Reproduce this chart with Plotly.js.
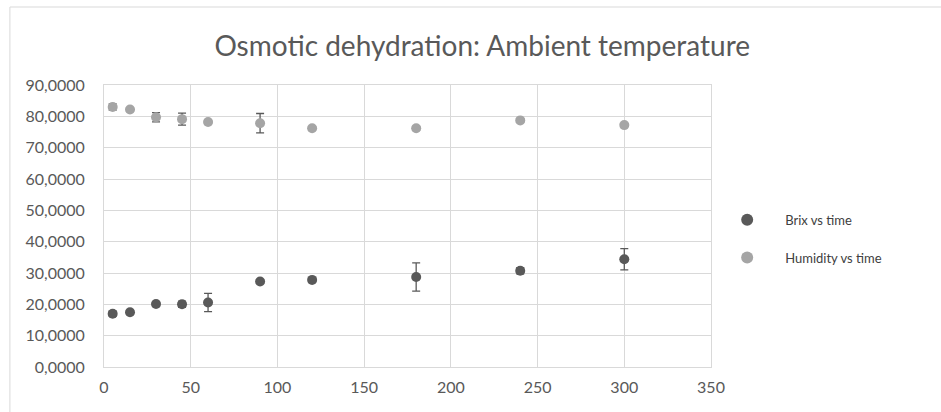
<!DOCTYPE html>
<html><head><meta charset="utf-8">
<script src="https://cdn.plot.ly/plotly-3.0.1.min.js"></script>
<style>html,body{margin:0;padding:0;background:#fff}#chart{width:941px;height:412px}</style>
</head><body><div id="chart"></div>
<script>
var time = [5, 15, 30, 45, 60, 90, 120, 180, 240, 300];
var brix = [17.0, 17.5, 20.1, 20.0, 20.6, 27.3, 27.8, 28.7, 30.7, 34.4];
var brixErr = [0.8, 0.6, 0.6, 1.0, 2.9, 0.6, 0.6, 4.5, 1.0, 3.4];
var humidity = [83.0, 82.2, 79.7, 79.1, 78.2, 77.8, 76.2, 76.2, 78.7, 77.2];
var humidityErr = [1.0, 0.4, 1.5, 1.9, 0.4, 3.1, 0.4, 0.6, 0.4, 0.4];
var yTickVals = [0, 10, 20, 30, 40, 50, 60, 70, 80, 90];
var yTickText = ["0,0000", "10,0000", "20,0000", "30,0000", "40,0000", "50,0000", "60,0000", "70,0000", "80,0000", "90,0000"];
var xTickVals = [0, 50, 100, 150, 200, 250, 300, 350];

var errStyle = {type: 'data', visible: true, color: '#595959', thickness: 1.3, width: 4};
var traces = [
  {x: time, y: brix, name: 'Brix vs time', legendgroup: 'a', mode: 'markers', type: 'scatter',
   marker: {color: '#595959', size: 10},
   error_y: Object.assign({array: brixErr}, errStyle)},
  {x: time, y: humidity, name: 'Humidity vs time', legendgroup: 'b', mode: 'markers', type: 'scatter',
   marker: {color: '#a5a5a5', size: 10},
   error_y: Object.assign({array: humidityErr}, errStyle)}
];
var layout = {
  width: 941, height: 412,
  margin: {l: 104, r: 230, t: 85, b: 45, pad: 0},
  paper_bgcolor: '#fff', plot_bgcolor: '#fff',
  font: {family: 'Lato, "Open Sans", sans-serif', color: '#595959', size: 13},
  title: {text: 'Osmotic dehydration: Ambient temperature', x: 0.5125, xanchor: 'center', xref: 'container',
          y: 0.888, yanchor: 'middle', yref: 'container',
          font: {size: 28, color: '#595959', family: 'Lato, "Open Sans", sans-serif'}},
  xaxis: {range: [0, 350], tickvals: xTickVals, showgrid: true, gridcolor: '#d9d9d9', gridwidth: 1,
          zeroline: false, showline: true, linecolor: '#d9d9d9', ticks: '', mirror: true,
          ticklabelstandoff: 6, tickfont: {size: 16, color: '#595959'}},
  yaxis: {range: [0, 90], tickvals: yTickVals, ticktext: yTickText, showgrid: true, gridcolor: '#d9d9d9',
          zeroline: false, showline: true, linecolor: '#d9d9d9', ticks: '', mirror: true,
          ticklabelstandoff: 15, tickfont: {size: 16, color: '#595959'}},
  legend: {x: 0.997, y: 0.455, xanchor: 'left', yanchor: 'middle', font: {size: 13, color: '#404040'},
           bgcolor: 'rgba(0,0,0,0)', traceorder: 'grouped', tracegroupgap: 18, itemwidth: 66, itemsizing: 'constant'},
  shapes: [{type: 'rect', xref: 'paper', yref: 'paper', x0: -0.155, x1: 1.6, y0: -0.5, y1: 1.0 + 78 / 282,
            line: {color: '#d9d9d9', width: 1}}],
  showlegend: true
};
Plotly.newPlot('chart', traces, layout, {displayModeBar: false, staticPlot: true});
</script></body></html>
